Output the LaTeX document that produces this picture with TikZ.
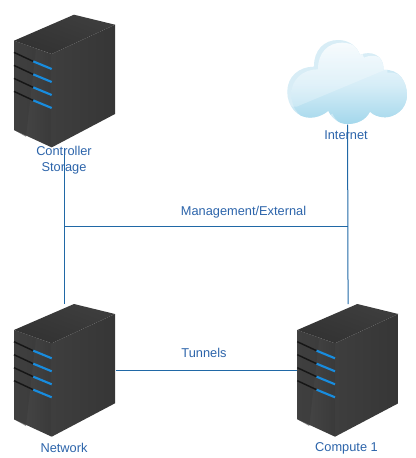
\documentclass[tikz,border=0pt]{standalone}
\usepackage{fontspec}
\usepackage{tikz}
\usepackage{xcolor}
\setmainfont{Liberation Sans}
\usetikzlibrary{positioning}
\definecolor{netblue}{RGB}{32,104,166}
\definecolor{labelblue}{RGB}{44,100,170}
\definecolor{slotblue}{RGB}{24,140,222}
\definecolor{slotdark}{RGB}{22,22,22}
\definecolor{srvfront}{RGB}{58,58,58}
\definecolor{srvfrontlt}{RGB}{72,72,72}
\definecolor{srvside}{RGB}{62,62,62}
\definecolor{srvsidedk}{RGB}{54,54,54}
\definecolor{srvtop}{RGB}{50,50,50}
\definecolor{srvtoplt}{RGB}{62,62,62}
\definecolor{cloudrim}{RGB}{204,232,244}
\definecolor{cloudtop}{RGB}{244,250,253}
\definecolor{cloudmid}{RGB}{214,237,247}
\definecolor{cloudlow}{RGB}{160,214,235}
\newcommand{\cloudpath}{(80,80) .. controls (80,30) and (110,0) .. (153,0)
  .. controls (185,0) and (210,20) .. (218,45)
  .. controls (250,30) and (292,45) .. (288,90)
  .. controls (335,85) and (359,125) .. (359,165)
  .. controls (359,210) and (320,232) .. (293,232)
  .. controls (275,232) and (258,225) .. (248,215)
  .. controls (235,240) and (210,252) .. (180,252)
  .. controls (155,252) and (133,235) .. (123,212)
  .. controls (105,228) and (85,233) .. (68,233)
  .. controls (30,233) and (0,200) .. (0,155)
  .. controls (0,110) and (35,80) .. (80,80) -- cycle}
\newcommand{\serverslot}[1]{
  \draw[slotdark, line width=1.1pt] (0,37.7+#1) -- (19.3,46.7+#1);
  \draw[slotblue, line width=1.6pt] (19.3,46.7+#1) -- (37.7,54.3+#1);
}
\tikzset{
  lbl/.style={text=labelblue, font=\fontsize{9.6}{12}\selectfont, align=center, inner sep=0pt},
  link/.style={draw=netblue, line width=0.75pt},
  serverbox/.style={inner sep=0pt, minimum width=75.75pt, minimum height=99.75pt},
  cloudbox/.style={inner sep=0pt, minimum width=90pt, minimum height=63pt},
  serverart/.pic={
    \shade[top color=srvtoplt, bottom color=srvtop, shading angle=-20] (60,0) -- (101,10) -- (37.7,39.3) -- (0,26) -- cycle;
    \shade[left color=srvfrontlt, right color=srvfront] (0,26) -- (37.7,39.3) -- (37.7,132.7) -- (0,115.3) -- cycle;
    \fill[srvfront, opacity=.6] (0,26) -- (22,34) -- (12,122) -- (0,115.3) -- cycle;
    \shade[left color=srvside, right color=srvsidedk] (37.7,39.3) -- (101,10) -- (101,99.3) -- (37.7,132.7) -- cycle;
    \serverslot{0}
    \serverslot{13}
    \serverslot{26}
    \serverslot{39}
  },
  cloudart/.pic={
    \begin{scope}[x=.25pt, y=-.25pt]
      \fill[cloudrim] \cloudpath;
      \begin{scope}
        \clip \cloudpath;
        \begin{scope}[shift={(12,8)}]
          \shade[top color=cloudtop, bottom color=cloudlow, middle color=cloudmid] \cloudpath;
        \end{scope}
        \fill[white, opacity=.25] (0,0) -- (359,0) -- (359,62) -- (28,200) -- (0,200) -- cycle;
      \end{scope}
    \end{scope}
  }
}
\begin{document}
\begin{tikzpicture}[x=.75pt, y=-.75pt]
  \useasboundingbox (0,0) rectangle (416,458);
  \node[serverbox, anchor=north west] (controller) at (14,14.7) {};
  \node[cloudbox, anchor=north west] (internet) at (287.3,40) {};
  \node[serverbox, anchor=north west] (network) at (14,304) {};
  \node[serverbox, anchor=north west] (compute) at (297.3,304) {};
  \pic at (controller.north west) {serverart};
  \pic at (internet.north west) {cloudart};
  \pic at (network.north west) {serverart};
  \pic at (compute.north west) {serverart};
  \coordinate (mgmtwest) at (controller.south |- 0,226.5);
  \coordinate (mgmteast) at (internet.south |- 0,226.5);
  \draw[link] (controller.south) -- (network.north);
  \draw[link] (internet.south) -- (compute.north);
  \draw[link] (mgmtwest) -- (mgmteast);
  \draw[link] (network.east) -- (compute.west);
  \node[lbl] (controllerlbl) at (64,160) {Controller\\Storage};
  \node[lbl] (internetlbl) at (346,135) {Internet};
  \node[lbl] (mgmtlbl) at (243.5,212.5) {Management/External};
  \node[lbl] (tunnelslbl) at (204,352.5) {Tunnels};
  \node[lbl] (networklbl) at (64,447.5) {Network};
  \node[lbl] (computelbl) at (346.5,448.5) {Compute 1};
\end{tikzpicture}
\end{document}
